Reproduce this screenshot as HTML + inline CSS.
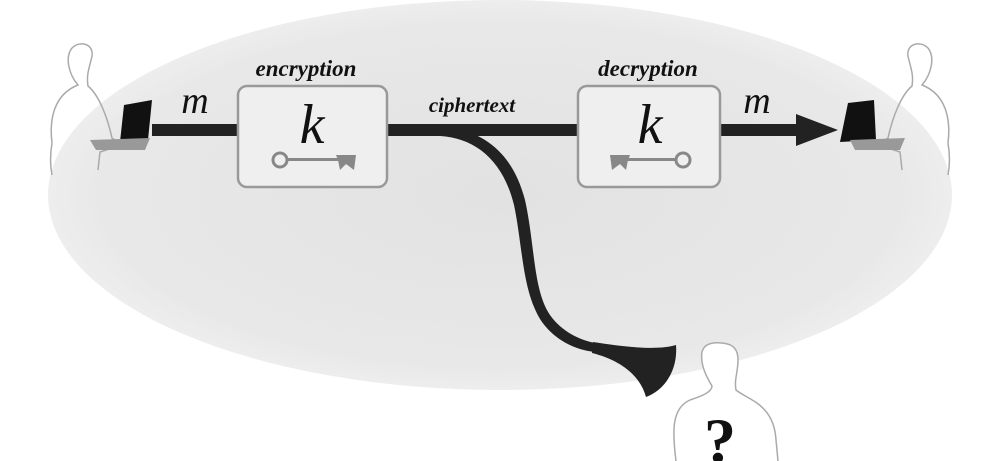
<!DOCTYPE html>
<html><head><style>body{margin:0;background:#fff}svg{display:block}</style></head><body>
<svg width="1000" height="461" viewBox="0 0 1000 461" xmlns="http://www.w3.org/2000/svg">
<defs>
<radialGradient id="g" cx="0.5" cy="0.5" r="0.55">
<stop offset="0" stop-color="#e2e2e2"/><stop offset="0.8" stop-color="#e8e8e8"/><stop offset="1" stop-color="#f2f2f2"/>
</radialGradient>
</defs>
<rect width="1000" height="461" fill="#fff"/>
<ellipse cx="500" cy="195" rx="452" ry="195" fill="url(#g)"/>
<path d="M52 143 C48 110 60 92 78 85 C70 76 64 58 72 48 C80 40 94 44 92 56 C90 66 86 74 88 86 C100 96 108 120 112 138 L122 145 L100 152 L98 170 M52 143 C50 155 50 165 52 175" fill="none" stroke="#aaa" stroke-width="1.5"/>
<polygon points="124,105 152,100 148,140 120,142" fill="#111"/>
<polygon points="90,140 150,138 145,150 96,150" fill="#999"/>
<path d="M948 143 C952 110 940 92 922 85 C930 76 936 58 928 48 C920 40 906 44 908 56 C910 66 914 74 912 86 C900 96 892 120 888 138 L878 145 L900 152 L902 170 M948 143 C950 155 950 165 948 175" fill="none" stroke="#aaa" stroke-width="1.5"/>
<polygon points="848,103 874,100 876,140 840,142" fill="#111"/>
<polygon points="850,140 905,138 900,150 855,150" fill="#999"/>
<rect x="152" y="124" width="88" height="12" fill="#222"/>
<rect x="386" y="124" width="194" height="12" fill="#222"/>
<rect x="718" y="124" width="82" height="12" fill="#222"/>
<polygon points="796,114 838,130 796,146" fill="#222"/>
<path d="M425 124 C480 126 512 150 525 200 C535 245 533 290 550 315 C562 332 580 340 595 343 L595 352 C575 350 555 340 542 322 C522 292 523 248 514 205 C503 160 475 138 440 136 Z" fill="#222"/>
<path d="M593 342 C630 348 660 350 676 345 C678 370 665 390 646 397 C640 375 620 360 592 353 Z" fill="#222"/>
<rect x="238" y="86" width="149" height="101" rx="9" fill="#efefef" stroke="#999" stroke-width="2.5"/>
<rect x="578" y="86" width="142" height="101" rx="9" fill="#efefef" stroke="#999" stroke-width="2.5"/>
<g font-family="Liberation Serif, serif" font-style="italic" fill="#111">
<text x="306" y="76" font-size="23" font-weight="bold" text-anchor="middle">encryption</text>
<text x="648" y="76" font-size="23" font-weight="bold" text-anchor="middle">decryption</text>
<text x="472" y="112" font-size="21" font-weight="bold" text-anchor="middle">ciphertext</text>
<text x="195" y="113" font-size="38" text-anchor="middle">m</text>
<text x="757" y="113" font-size="38" text-anchor="middle">m</text>
<text x="312" y="143" font-size="56" text-anchor="middle">k</text>
<text x="650" y="143" font-size="56" text-anchor="middle">k</text>
</g>
<g fill="#888" stroke="#888">
<circle cx="280" cy="160" r="7" fill="none" stroke-width="3"/>
<rect x="287" y="158" width="52" height="3" stroke="none"/>
<polygon points="336,155 356,155 354,170 346,164 340,170 338,160" stroke="none"/>
<circle cx="683" cy="160" r="7" fill="none" stroke-width="3"/>
<rect x="626" y="158" width="50" height="3" stroke="none"/>
<polygon points="610,155 630,155 628,160 626,170 620,164 612,170" stroke="none"/>
</g>
<path d="M676 461 C672 430 672 408 690 400 C702 396 712 392 712 386 C706 376 700 364 702 352 C704 344 712 342 722 343 C734 344 738 350 738 360 C738 372 734 380 736 390 C748 400 774 404 776 440 L778 461" fill="#fff" stroke="#aaa" stroke-width="1.5"/>
<text x="720" y="462" font-family="Liberation Serif, serif" font-weight="bold" font-size="64" text-anchor="middle" fill="#111">?</text>
</svg>
</body></html>
